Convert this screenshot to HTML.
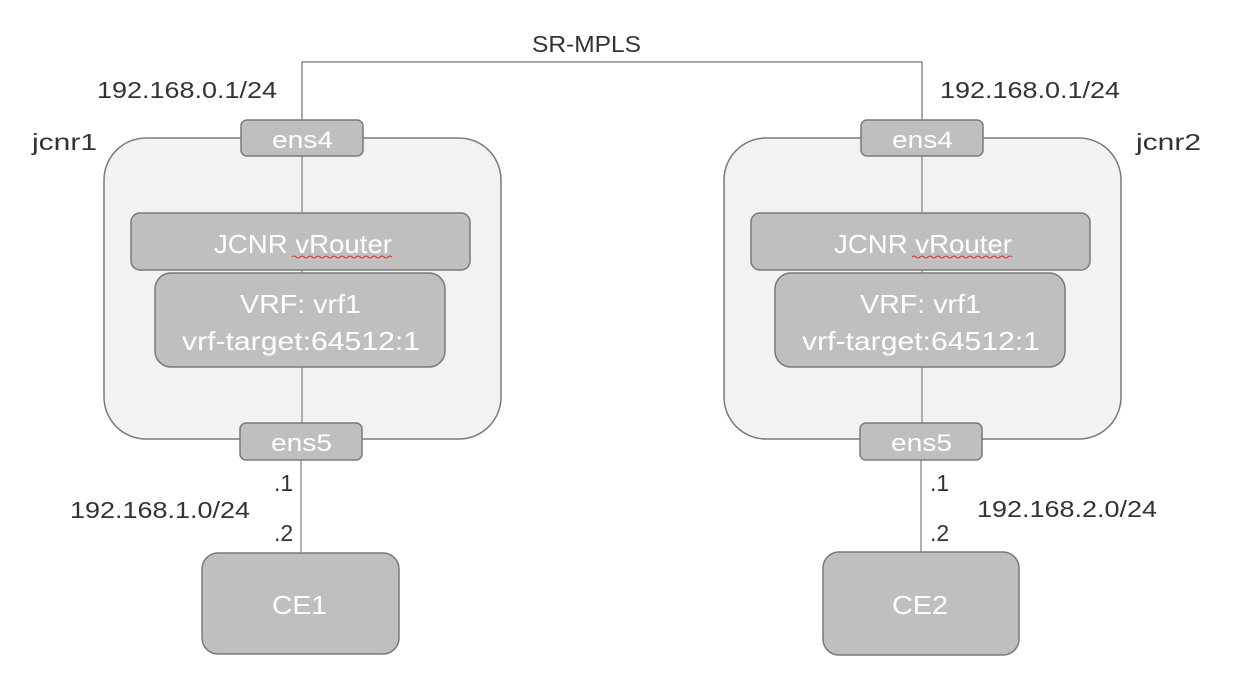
<!DOCTYPE html>
<html><head><meta charset="utf-8"><style>
html,body{margin:0;padding:0;background:#fff;}
svg text{font-family:"Liberation Sans",sans-serif;}
</style></head><body>
<svg width="1238" height="682" viewBox="0 0 1238 682" xmlns="http://www.w3.org/2000/svg">
<rect width="1238" height="682" fill="#fff"/>
<polyline points="302,121 302,62 922,62 922,121" fill="none" stroke="#555" stroke-width="1"/>
<text x="532" y="52" font-size="23" fill="#333" textLength="109" lengthAdjust="spacingAndGlyphs">SR-MPLS</text>
<text x="97" y="98" font-size="23" fill="#333" textLength="180" lengthAdjust="spacingAndGlyphs">192.168.0.1/24</text>
<text x="940" y="98" font-size="23" fill="#333" textLength="180" lengthAdjust="spacingAndGlyphs">192.168.0.1/24</text>
<text x="32" y="150" font-size="23" fill="#333" textLength="65" lengthAdjust="spacingAndGlyphs">jcnr1</text>
<text x="1136" y="150" font-size="23" fill="#333" textLength="65" lengthAdjust="spacingAndGlyphs">jcnr2</text>

<g id="L">
<rect x="104" y="138" width="397" height="301" rx="42" fill="#f2f2f2" stroke="#7a7a7a" stroke-width="1.5"/>
<line x1="302" y1="156" x2="302" y2="424" stroke="#666" stroke-width="1"/>
<line x1="301" y1="460" x2="301" y2="553" stroke="#666" stroke-width="1"/>
<rect x="241" y="120" width="122" height="36" rx="6" fill="#bfbfbf" stroke="#7a7a7a" stroke-width="1.5"/>
<text x="272" y="148" font-size="24" fill="#fff" textLength="61" lengthAdjust="spacingAndGlyphs">ens4</text>
<rect x="131" y="213" width="339" height="57" rx="9" fill="#bfbfbf" stroke="#7a7a7a" stroke-width="1.5"/>
<text x="214" y="253" font-size="26" fill="#fff" textLength="178" lengthAdjust="spacingAndGlyphs">JCNR vRouter</text>
<path d="M292,257 q2,-2 4,0 t4,0 t4,0 t4,0 t4,0 t4,0 t4,0 t4,0 t4,0 t4,0 t4,0 t4,0 t4,0 t4,0 t4,0 t4,0 t4,0 t4,0 t4,0 t4,0 t4,0 t4,0 t4,0 t4,0 t4,0" fill="none" stroke="#e0302a" stroke-width="1"/>
<rect x="155" y="273" width="290" height="94" rx="16" fill="#bfbfbf" stroke="#7a7a7a" stroke-width="1.5"/>
<text x="240" y="313" font-size="26" fill="#fff" textLength="121" lengthAdjust="spacingAndGlyphs">VRF: vrf1</text>
<text x="182" y="350" font-size="26" fill="#fff" textLength="238" lengthAdjust="spacingAndGlyphs">vrf-target:64512:1</text>
<rect x="240" y="423" width="122" height="37" rx="6" fill="#bfbfbf" stroke="#7a7a7a" stroke-width="1.5"/>
<text x="271" y="451" font-size="24" fill="#fff" textLength="61" lengthAdjust="spacingAndGlyphs">ens5</text>
<rect x="202" y="553" width="197" height="101" rx="16" fill="#bfbfbf" stroke="#7a7a7a" stroke-width="1.5"/>
<text x="272" y="614" font-size="26" fill="#fff" textLength="55" lengthAdjust="spacingAndGlyphs">CE1</text>
</g>
<text x="274" y="491" font-size="23" fill="#333">.1</text>
<text x="274" y="541" font-size="23" fill="#333">.2</text>
<text x="70" y="518" font-size="23" fill="#333" textLength="180" lengthAdjust="spacingAndGlyphs">192.168.1.0/24</text>

<g transform="translate(620,0)">
<rect x="104" y="138" width="397" height="301" rx="42" fill="#f2f2f2" stroke="#7a7a7a" stroke-width="1.5"/>
<line x1="302" y1="156" x2="302" y2="424" stroke="#666" stroke-width="1"/>
<line x1="301" y1="460" x2="301" y2="553" stroke="#666" stroke-width="1"/>
<rect x="241" y="120" width="122" height="36" rx="6" fill="#bfbfbf" stroke="#7a7a7a" stroke-width="1.5"/>
<text x="272" y="148" font-size="24" fill="#fff" textLength="61" lengthAdjust="spacingAndGlyphs">ens4</text>
<rect x="131" y="213" width="339" height="57" rx="9" fill="#bfbfbf" stroke="#7a7a7a" stroke-width="1.5"/>
<text x="214" y="253" font-size="26" fill="#fff" textLength="178" lengthAdjust="spacingAndGlyphs">JCNR vRouter</text>
<path d="M292,257 q2,-2 4,0 t4,0 t4,0 t4,0 t4,0 t4,0 t4,0 t4,0 t4,0 t4,0 t4,0 t4,0 t4,0 t4,0 t4,0 t4,0 t4,0 t4,0 t4,0 t4,0 t4,0 t4,0 t4,0 t4,0 t4,0" fill="none" stroke="#e0302a" stroke-width="1"/>
<rect x="155" y="273" width="290" height="94" rx="16" fill="#bfbfbf" stroke="#7a7a7a" stroke-width="1.5"/>
<text x="240" y="313" font-size="26" fill="#fff" textLength="121" lengthAdjust="spacingAndGlyphs">VRF: vrf1</text>
<text x="182" y="350" font-size="26" fill="#fff" textLength="238" lengthAdjust="spacingAndGlyphs">vrf-target:64512:1</text>
<rect x="240" y="423" width="122" height="37" rx="6" fill="#bfbfbf" stroke="#7a7a7a" stroke-width="1.5"/>
<text x="271" y="451" font-size="24" fill="#fff" textLength="61" lengthAdjust="spacingAndGlyphs">ens5</text>
<rect x="203" y="552" width="196" height="103" rx="16" fill="#bfbfbf" stroke="#7a7a7a" stroke-width="1.5"/>
<text x="272" y="614" font-size="26" fill="#fff" textLength="56" lengthAdjust="spacingAndGlyphs">CE2</text>
</g>
<text x="930" y="491" font-size="23" fill="#333">.1</text>
<text x="930" y="541" font-size="23" fill="#333">.2</text>
<text x="977" y="517" font-size="23" fill="#333" textLength="180" lengthAdjust="spacingAndGlyphs">192.168.2.0/24</text>
</svg>
</body></html>
